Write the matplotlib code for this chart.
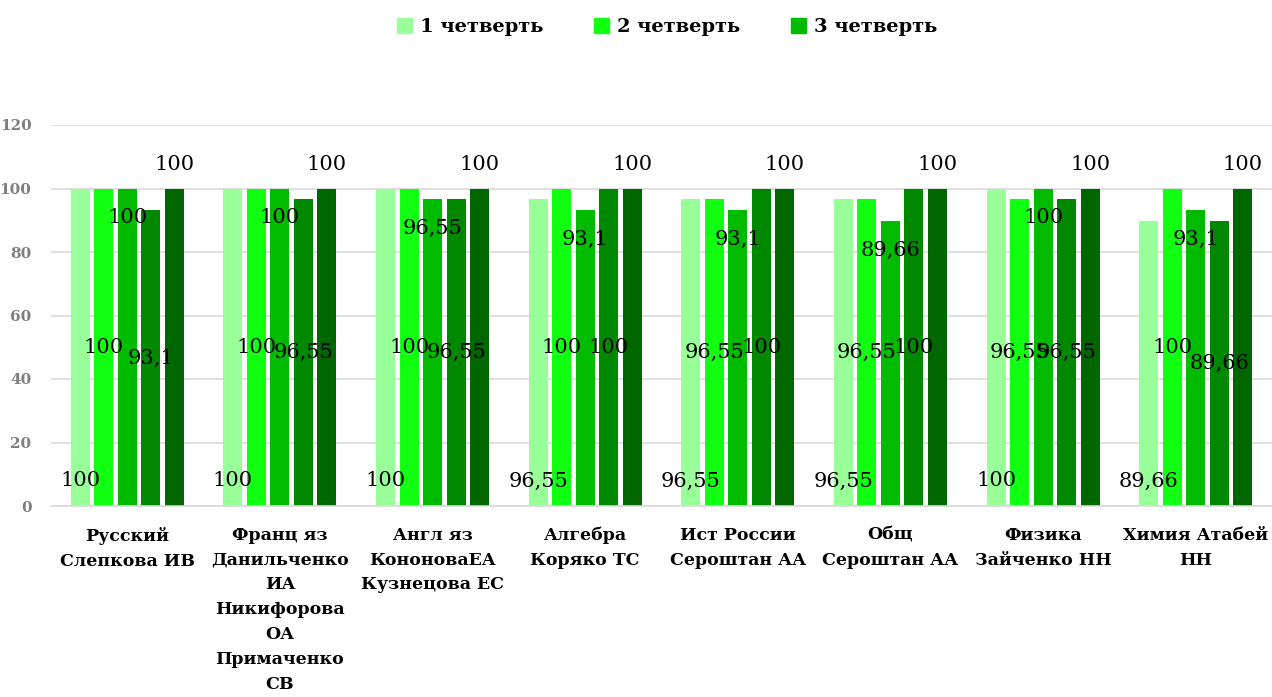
import matplotlib.pyplot as plt
import numpy as np
from matplotlib.patches import Patch

categories = [
    "Русский\nСлепкова ИВ",
    "Франц яз\nДанильченко\nИА\nНикифорова\nОА\nПримаченко\nСВ",
    "Англ яз\nКононоваЕА\nКузнецова ЕС",
    "Алгебра\nКоряко ТС",
    "Ист России\nСероштан АА",
    "Общ\nСероштан АА",
    "Физика\nЗайченко НН",
    "Химия Атабей\nНН",
]
series_names = ["1 четверть", "2 четверть", "3 четверть", "", ""]
s1 = [100, 100, 100, 96.55, 96.55, 96.55, 100, 89.66]
s2 = [100, 100, 100, 100, 96.55, 96.55, 96.55, 100]
s3 = [100, 100, 96.55, 93.1, 93.1, 89.66, 100, 93.1]
s4 = [93.1, 96.55, 96.55, 100, 100, 100, 96.55, 89.66]
s5 = [100, 100, 100, 100, 100, 100, 100, 100]
series = [s1, s2, s3, s4, s5]
colors = ["#99ff99", "#11ff11", "#00bb00", "#008800", "#006600"]

# where each series puts its value label: (anchor, pixel offset)
label_modes = [("base", 25), ("center", 0), ("end", -29), ("center", 0), ("end", 24)]

FONT = "DejaVu Serif"


def fmt(v):
    s = f"{v:.2f}".rstrip("0").rstrip(".")
    return s.replace(".", ",")


fig = plt.figure(figsize=(12.72, 6.97), dpi=100)
ax = fig.add_axes([51 / 1272, 1 - 506 / 697, (1272 - 51) / 1272, (506 - 125) / 697])

x = np.arange(len(categories))
step = 0.154
width = 0.124
for i, (vals, col) in enumerate(zip(series, colors)):
    xs = x + (i - 2) * step
    ax.bar(xs, vals, width=width, color=col, zorder=2)
    mode, off = label_modes[i]
    for xi, v in zip(xs, vals):
        if mode == "base":
            y = 0
        elif mode == "center":
            y = v / 2
        else:
            y = v
        ax.annotate(fmt(v), (xi, y), xytext=(0, off), textcoords="offset pixels",
                    ha="center", va="center", fontsize=15, family=FONT,
                    color="black", zorder=3)

ax.set_xlim(-0.5, len(categories) - 0.5)
ax.set_ylim(0, 120)
ax.set_yticks(range(0, 121, 20))
ax.yaxis.grid(True, color="#d9d9d9", linewidth=1.2, zorder=0)
ax.set_axisbelow(True)
for side in ["top", "right", "left"]:
    ax.spines[side].set_visible(False)
ax.spines["bottom"].set_color("#d9d9d9")
ax.spines["bottom"].set_linewidth(1.2)
ax.tick_params(axis="both", length=0)
ax.tick_params(axis="y", pad=14)
ax.tick_params(axis="x", pad=15)
ax.set_xticks(x)
ax.set_xticklabels(categories, fontsize=12.5, family=FONT, fontweight="bold",
                   va="top", linespacing=1.6)
for lab in ax.get_yticklabels():
    lab.set_family(FONT)
    lab.set_fontsize(11)
    lab.set_fontweight("bold")
    lab.set_color("#7f7f7f")

handles = [Patch(color=colors[i], label=series_names[i]) for i in range(3)]
fig.legend(handles=handles, loc="center", bbox_to_anchor=(667 / 1272, 1 - 27 / 697),
           ncol=3, frameon=False, handlelength=0.8, handleheight=0.8,
           handletextpad=0.4, columnspacing=2.6,
           prop={"family": FONT, "size": 14, "weight": "bold"})

fig.savefig("out.png", dpi=100)
